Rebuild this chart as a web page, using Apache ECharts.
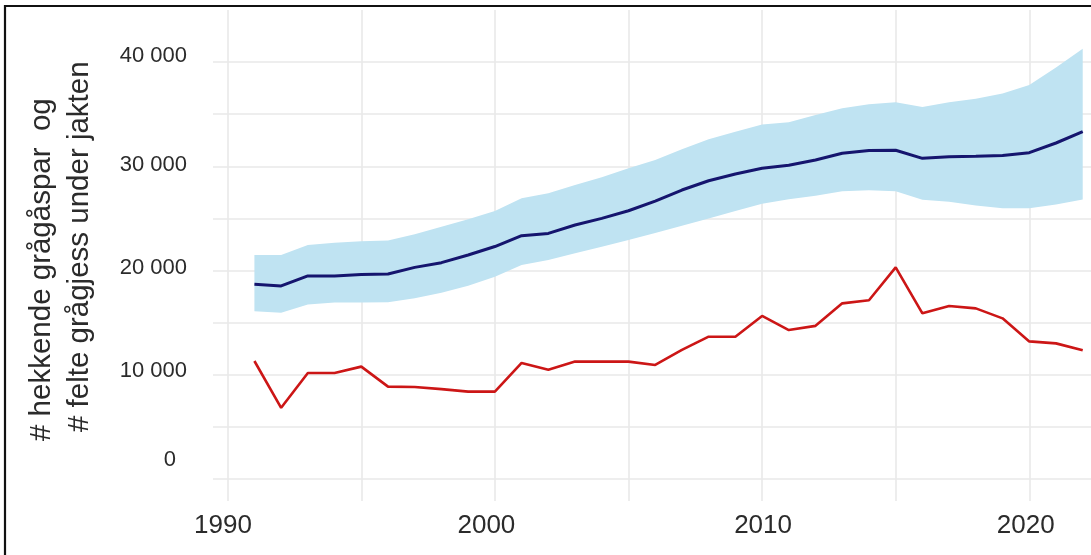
<!DOCTYPE html>
<html><head><meta charset="utf-8">
<script src="https://cdn.jsdelivr.net/npm/echarts@6/dist/echarts.min.js"></script>
<style>html,body{margin:0;padding:0;background:#fff}#c{width:1091px;height:555px}</style>
</head><body><div id="c"></div>
<script>
// ---- data ----
const years = [1991,1992,1993,1994,1995,1996,1997,1998,1999,2000,
               2001,2002,2003,2004,2005,2006,2007,2008,2009,2010,
               2011,2012,2013,2014,2015,2016,2017,2018,2019,2020,2021,2022];
const breedingPairs = [18680,18520,19480,19480,19620,19660,20300,20750,21490,22300,
                       23340,23560,24360,25000,25730,26660,27720,28610,29250,29800,
                       30090,30600,31240,31500,31530,30760,30920,30950,31030,31300,32230,33320];
const bandLower = [16100,15950,16740,16920,16920,16960,17330,17860,18530,19400,
                   20530,21010,21650,22290,22930,23600,24300,25000,25700,26400,
                   26840,27160,27610,27690,27610,26790,26600,26230,25965,25965,26330,26800];
const bandUpper = [21490,21490,22450,22670,22800,22880,23480,24200,24920,25700,
                   26930,27400,28200,28940,29800,30600,31640,32600,33320,34000,
                   34230,34920,35570,35950,36150,35680,36150,36470,36980,37800,39480,41260];
const harvested = [11320,6830,10170,10170,10780,8860,8830,8620,8380,8380,
                   11130,10490,11260,11260,11260,10940,12380,13650,13650,15640,
                   14290,14690,16850,17150,20300,15890,16600,16370,15410,13200,13010,12340];
const xGridValues = [1990,1995,2000,2005,2010,2015,2020];
const xLabelValues = [1990,2000,2010,2020];
const yGridValues = [0,5000,10000,15000,20000,25000,30000,35000,40000];
const yLabelValues = [0,10000,20000,30000,40000];
const titleLine1 = '# hekkende grågåspar  og';
const titleLine2 = '# felte grågjess under jakten';

// ---- styling ----
// per-label nudges [shift left px, shift up px] (reference labels are slightly offset)
const yNudge = {0:[11,19], 10000:[0,4], 20000:[0,2.5], 30000:[0,1], 40000:[0,6]};
const xNudge = {1990:-4.7, 2000:-8.5, 2010:1, 2020:-3.5};

function fmtThousands(v){ return String(v).replace(/\B(?=(\d{3})+(?!\d))/g, ' '); }

const yRich = {}, xRich = {};
yLabelValues.forEach((v,i)=>{
  const n = yNudge[v] || [0,0];
  yRich['y'+i] = {fontSize:22, fontFamily:'Liberation Sans', color:'#2b2b2b', padding:[0, n[0], 2*n[1], 0]};
});
xLabelValues.forEach((v,i)=>{
  const d = xNudge[v] || 0;
  xRich['x'+i] = {fontSize:26, fontFamily:'Liberation Sans', color:'#2b2b2b',
                  padding: d < 0 ? [0, -2*d, 0, 0] : [0, 0, 0, 2*d]};
});

const chart = echarts.init(document.getElementById('c'), null, {renderer:'canvas'});
const gridLine = {show:true, lineStyle:{color:'#e9e9e9', width:1.6}};

function renderBand(params, api){
  if (params.dataIndex !== 0) return;
  const pts = [];
  for (let i = 0; i < years.length; i++) pts.push(api.coord([years[i], bandUpper[i]]));
  for (let i = years.length - 1; i >= 0; i--) pts.push(api.coord([years[i], bandLower[i]]));
  return {type:'polygon', shape:{points:pts}, style:{fill:'#bfe3f2', stroke:null}};
}

chart.setOption({
  animation:false,
  backgroundColor:'#ffffff',
  grid:{left:213, right:-4, top:10, bottom:54, containLabel:false},
  xAxis:{
    type:'value', min:1989.45, max:2022.31,
    axisLine:{show:false},
    axisTick:{show:false, customValues:xGridValues},
    splitLine:gridLine,
    axisLabel:{
      customValues:xLabelValues, margin:12,
      fontSize:26, fontFamily:'Liberation Sans', color:'#2b2b2b',
      formatter:(v)=>{ const i = xLabelValues.indexOf(v); return '{x'+i+'|'+v+'}'; },
      rich:xRich
    }
  },
  yAxis:{
    type:'value', min:-2110, max:44988,
    axisLine:{show:false},
    axisTick:{show:false, customValues:yGridValues},
    splitLine:gridLine,
    axisLabel:{
      customValues:yLabelValues, margin:26,
      fontSize:22, fontFamily:'Liberation Sans', color:'#2b2b2b',
      formatter:(v)=>{ const i = yLabelValues.indexOf(v); return '{y'+i+'|'+fmtThousands(v)+'}'; },
      rich:yRich
    }
  },
  graphic:[
    {type:'text', x:42, y:441, rotation:Math.PI/2,
     style:{text:titleLine1, fontSize:29.5, fontFamily:'Liberation Sans', fill:'#2b2b2b', align:'left', verticalAlign:'middle'}},
    {type:'text', x:80, y:432, rotation:Math.PI/2,
     style:{text:titleLine2, fontSize:29.5, fontFamily:'Liberation Sans', fill:'#2b2b2b', align:'left', verticalAlign:'middle'}},
    {type:'rect', shape:{x:5, y:6, width:1110, height:600}, z:100,
     style:{fill:'none', stroke:'#111111', lineWidth:2.2}}
  ],
  series:[
    {name:'ci', type:'custom', silent:true, z:1, renderItem:renderBand,
     encode:{x:0, y:[1,2]},
     data:years.map((y,i)=>[y, bandLower[i], bandUpper[i]])},
    {name:'pairs', type:'line', symbol:'none', z:3,
     lineStyle:{color:'#15156e', width:3}, data:years.map((y,i)=>[y, breedingPairs[i]])},
    {name:'harvest', type:'line', symbol:'none', z:3,
     lineStyle:{color:'#cc1616', width:2.6}, data:years.map((y,i)=>[y, harvested[i]])}
  ]
});
</script></body></html>
